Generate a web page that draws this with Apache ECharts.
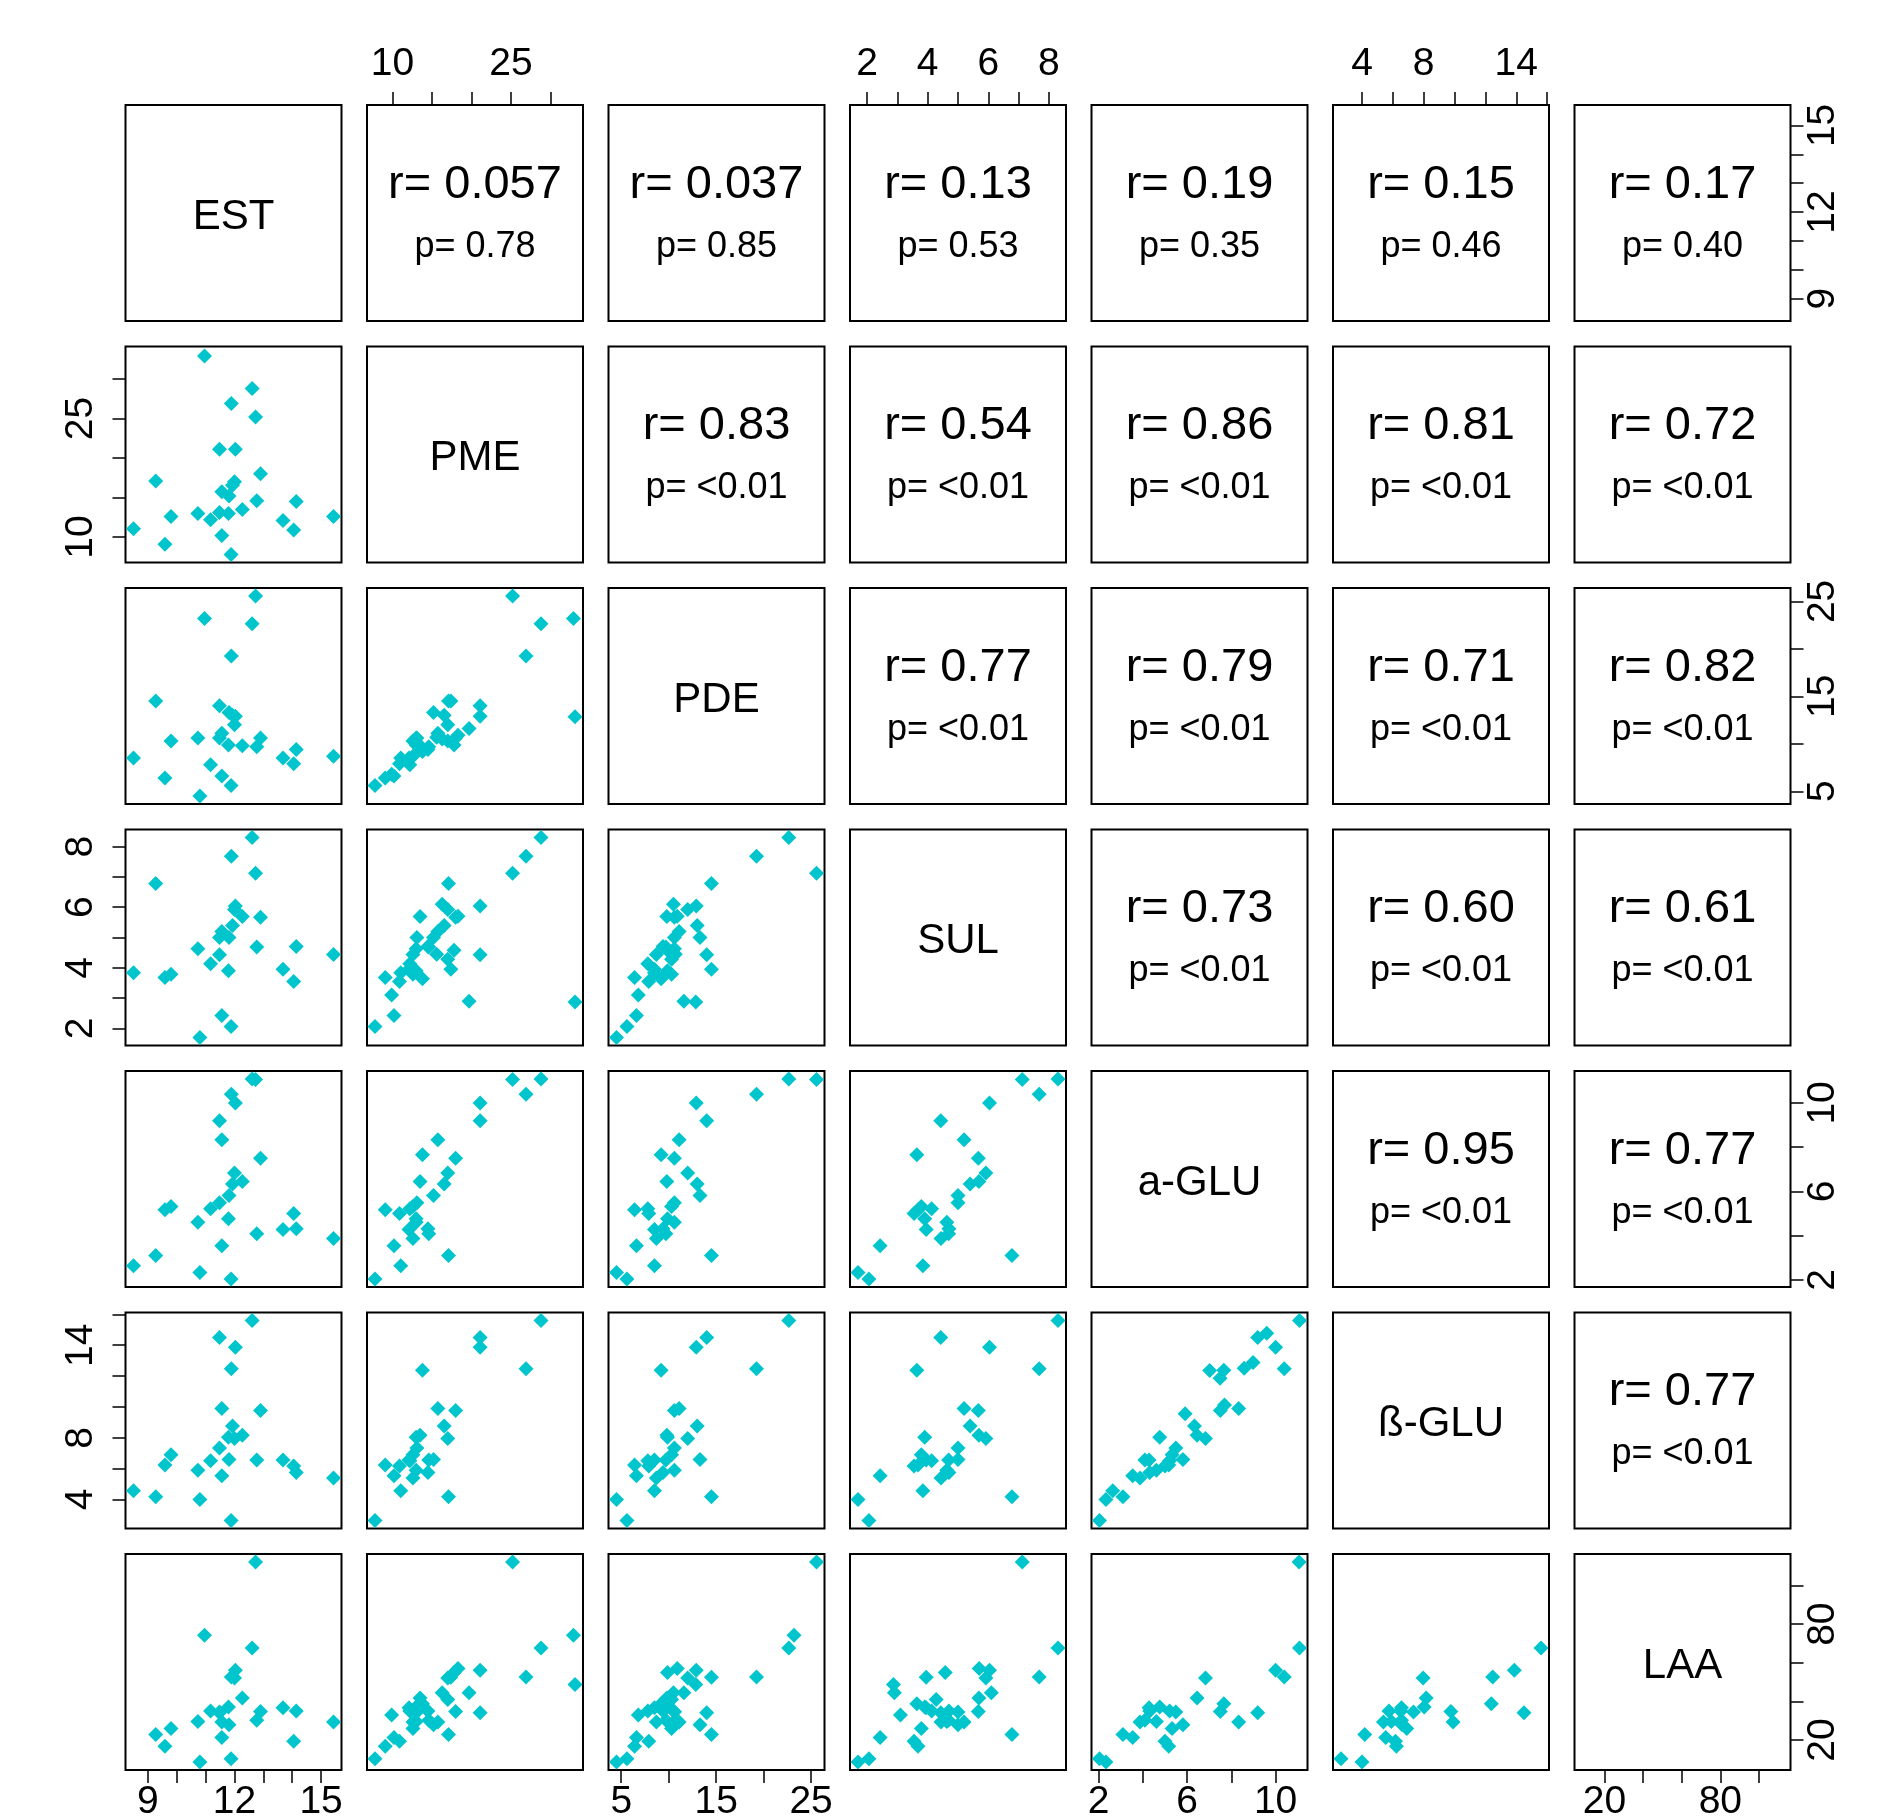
<!DOCTYPE html>
<html><head><meta charset="utf-8">
<script src="https://cdn.jsdelivr.net/npm/echarts@6/dist/echarts.min.js"></script>
<style>html,body{margin:0;padding:0;background:#fff}#c{width:1893px;height:1816px}</style>
</head><body><div id="c"></div>
<script>
// ---------------- DATA ----------------
const varNames = ['EST', 'PME', 'PDE', 'SUL', 'a-GLU', 'ß-GLU', 'LAA'];

const EST = [8.50, 9.27, 9.59, 9.80, 10.73, 10.80, 10.96, 11.17, 11.48, 11.48,
  11.56, 11.56, 11.79, 11.81, 11.88, 11.89, 12.00, 11.93, 12.03, 12.27,
  12.61, 12.73, 12.77, 12.90, 13.68, 14.05, 14.14, 15.43, null, null,
  null, null, null, null, null, null, null, null, null, null,
  null, null, null, null, null];

const PME = [11.06, 17.1, 9.1, 12.6, 13.0, null, 32.9, 12.2, 21.1, 13.1,
  15.75, 10.2, 13.0, 15.2, 7.8, 26.9, 17.0, 16.55, 21.1, 13.5,
  28.8, 25.2, 14.6, 18.0, 12.1, 10.9, 14.5, 12.6, 33.1, 19.7,
  9.9, 13.8, 16.3, 17.8, 17.4, 17.0, 18.3, 15.6, null, null,
  null, null, null, null, null];

const PDE = [8.5, 14.5, 6.4, 10.3, 10.6, 4.5, 23.2, 7.8, 14.0, 10.6,
  11.1, 6.6, 9.87, 13.3, 5.6, 19.25, 12.0, 13.0, 12.9, 9.8,
  22.65, 25.57, 9.7, 10.6, 8.5, 7.9, 9.4, 8.7, 12.85, 11.6,
  6.8, 9.2, 10.5, 9.87, 14.5, 10.3, 10.9, 10.7, null, null,
  null, null, null, null, null];

const SUL = [3.84, 6.78, 3.68, 3.79, 4.63, 1.7, null, 4.13, 4.43, 5.0,
  5.2, 2.43, 3.9, 5.0, 2.06, 7.68, 5.92, 5.4, 6.04, 5.69,
  8.3, 7.12, 4.69, 5.67, 3.95, 3.55, 4.7, 4.44, 2.87, 2.9,
  3.1, 3.64, 6.1, 4.58, 3.95, 4.28, 5.7, 4.45, null, null,
  null, null, null, null, null];

const aGLU = [2.64, 3.1, 5.17, 5.32, 4.61, 2.33, null, 5.21, 9.19, 5.49,
  8.33, 3.54, 4.76, 5.81, 2.04, 10.39, 6.83, 6.33, 10.0, 6.45,
  11.08, 11.06, 4.09, 7.5, 4.28, 5.0, 4.31, 3.87, null, null,
  null, 7.66, null, null, null, null, null, null, 9.6, 8.98,
  8.58, 7.02, 7.49, 5.91, 7.69];

const bGLU = [4.56, 4.18, 6.23, 6.9, 5.9, 4.0, null, 6.51, 14.5, 7.34,
  9.9, 5.54, 8.03, 6.6, 2.64, 12.47, 7.96, 8.77, 13.87, 8.16,
  15.6, null, 6.56, 9.76, 6.56, 6.17, 5.75, 5.39, null, null,
  null, 12.38, null, null, null, null, null, null, 14.78, 12.88,
  12.5, 12.36, 11.86, 9.55, 10.13];

const LAA = [null, 22.9, 16.7, 25.9, 29.6, 8.6, 74.2, 35.0, 34.1, 34.5,
  29.3, 21.3, 37.1, 27.9, 10.3, 52.6, 52.1, null, 56.1, 41.8,
  67.7, 112.2, 30.2, 34.8, 36.7, 19.3, 35.0, 29.3, 48.8, 44.5,
  33.0, 38.8, 44.5, 55.0, 52.5, 41.0, 57.0, null, null, null,
  null, null, null, null, null];

// axis ticks and the tick labels printed
const ticksEST = [9, 10, 11, 12, 13, 14, 15];   const labelsEST = [9, 12, 15];
const ticksPME = [10, 15, 20, 25, 30];          const labelsPME = [10, 25];
const ticksPDE = [5, 10, 15, 20, 25];           const labelsPDE = [5, 15, 25];
const ticksSUL = [2, 3, 4, 5, 6, 7, 8];         const labelsSUL = [2, 4, 6, 8];
const ticksAGLU = [2, 4, 6, 8, 10];             const labelsAGLU = [2, 6, 10];
const ticksBGLU = [4, 6, 8, 10, 12, 14, 16];    const labelsBGLU = [4, 8, 14];
const ticksLAA = [20, 40, 60, 80, 100];         const labelsLAA = [20, 80];

// upper-triangle texts, row by row
const rLabels = ['r= 0.057', 'r= 0.037', 'r= 0.13', 'r= 0.19', 'r= 0.15', 'r= 0.17',
  'r= 0.83', 'r= 0.54', 'r= 0.86', 'r= 0.81', 'r= 0.72',
  'r= 0.77', 'r= 0.79', 'r= 0.71', 'r= 0.82',
  'r= 0.73', 'r= 0.60', 'r= 0.61',
  'r= 0.95', 'r= 0.77',
  'r= 0.77'];
const pLabels = ['p= 0.78', 'p= 0.85', 'p= 0.53', 'p= 0.35', 'p= 0.46', 'p= 0.40',
  'p= <0.01', 'p= <0.01', 'p= <0.01', 'p= <0.01', 'p= <0.01',
  'p= <0.01', 'p= <0.01', 'p= <0.01', 'p= <0.01',
  'p= <0.01', 'p= <0.01', 'p= <0.01',
  'p= <0.01', 'p= <0.01',
  'p= <0.01'];

// ---------------- BUILD ----------------
const vars = [EST, PME, PDE, SUL, aGLU, bGLU, LAA];
const ticks = [ticksEST, ticksPME, ticksPDE, ticksSUL, ticksAGLU, ticksBGLU, ticksLAA];
const tickLabs = [labelsEST, labelsPME, labelsPDE, labelsSUL, labelsAGLU, labelsBGLU, labelsLAA];
const N = vars.length;

function range(a) {
  const v = a.filter(x => x != null);
  const mn = Math.min(...v), mx = Math.max(...v);
  const d = (mx - mn) * 0.04;
  return [mn - d, mx + d];
}
const ranges = vars.map(range);

const L0 = 125.5, T0 = 105, S = 216, STEP = 241.5;
const FONT = '"Liberation Sans", Arial, Helvetica, sans-serif';
const COLOR = '#00C5CD';

const grids = [], xAxes = [], yAxes = [], series = [], graphics = [];
for (let i = 0; i < N; i++) {
  for (let j = 0; j < N; j++) {
    const k = i * N + j;
    grids.push({
      left: L0 + j * STEP, top: T0 + i * STEP, width: S, height: S,
      containLabel: false, outerBoundsMode: 'none',
      show: true, borderColor: '#000', borderWidth: 2, backgroundColor: 'transparent'
    });
    const xTop = (i === 0 && j % 2 === 1);
    const xBottom = (i === N - 1 && j % 2 === 0);
    const showX = xTop || xBottom;
    xAxes.push({
      type: 'value', gridIndex: k, min: ranges[j][0], max: ranges[j][1],
      position: xTop ? 'top' : 'bottom',
      axisLine: { show: false }, splitLine: { show: false },
      axisTick: { show: showX, length: 13, customValues: ticks[j], lineStyle: { color: '#000', width: 1.5 } },
      axisLabel: {
        show: showX, customValues: tickLabs[j], formatter: v => String(v),
        margin: xTop ? 21 : 13, color: '#000', fontSize: 39, lineHeight: 39, fontFamily: FONT
      }
    });
    const yLeft = (j === 0 && i % 2 === 1);
    const yRight = (j === N - 1 && i % 2 === 0);
    const showY = yLeft || yRight;
    yAxes.push({
      type: 'value', gridIndex: k, min: ranges[i][0], max: ranges[i][1],
      position: yRight ? 'right' : 'left',
      axisLine: { show: false }, splitLine: { show: false },
      axisTick: { show: showY, length: 13, customValues: ticks[i], lineStyle: { color: '#000', width: 1.5 } },
      axisLabel: {
        show: showY, customValues: tickLabs[i], formatter: v => String(v), rotate: 90,
        margin: yLeft ? 25 : 13, color: '#000', fontSize: 39, lineHeight: 39, fontFamily: FONT
      }
    });
    if (i > j) {
      const data = [];
      for (let n = 0; n < vars[j].length; n++) {
        const xv = vars[j][n], yv = vars[i][n];
        if (xv != null && yv != null) data.push([xv, yv]);
      }
      series.push({
        type: 'scatter', xAxisIndex: k, yAxisIndex: k, data,
        symbol: 'diamond', symbolSize: 15, silent: true,
        itemStyle: { color: COLOR, opacity: 1 }
      });
    }
  }
}

// diagonal names and upper-triangle statistics
let u = 0;
for (let i = 0; i < N; i++) {
  for (let j = 0; j < N; j++) {
    const cx = L0 + j * STEP + S / 2, top = T0 + i * STEP;
    if (i === j) {
      graphics.push({ type: 'text', x: cx, y: top + S / 2 + 4,
        style: { text: varNames[i], fill: '#000', font: '42px ' + FONT,
          align: 'center', verticalAlign: 'middle', textAlign: 'center', textVerticalAlign: 'middle' } });
    } else if (j > i) {
      graphics.push({ type: 'text', x: cx, y: top + 80,
        style: { text: rLabels[u], fill: '#000', font: '47px ' + FONT,
          align: 'center', verticalAlign: 'middle', textAlign: 'center', textVerticalAlign: 'middle' } });
      graphics.push({ type: 'text', x: cx, y: top + 142,
        style: { text: pLabels[u], fill: '#000', font: '36px ' + FONT,
          align: 'center', verticalAlign: 'middle', textAlign: 'center', textVerticalAlign: 'middle' } });
      u++;
    }
  }
}

const chart = echarts.init(document.getElementById('c'), null, { renderer: 'canvas' });
chart.setOption({
  backgroundColor: '#fff',
  animation: false,
  grid: grids, xAxis: xAxes, yAxis: yAxes, series: series,
  graphic: { elements: graphics }
});
</script>
</body></html>
